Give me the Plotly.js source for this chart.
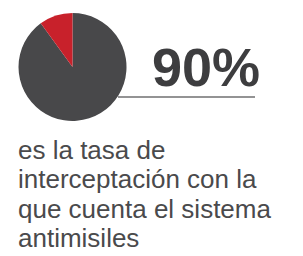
<!DOCTYPE html>
<html><head><meta charset="utf-8">
<script src="https://cdn.plot.ly/plotly-3.0.1.min.js"></script>
<style>html,body{margin:0;padding:0;background:#fff;}#c{width:303px;height:256px;}</style>
</head><body><div id="c"></div>
<script>
const labels = ["Interceptado", "No interceptado"];
const values = [90, 10];
const colors = ["#48484a", "#c8212b"];
const headline = "90%";
const bodyLines = ["es la tasa de", "interceptación con la", "que cuenta el sistema", "antimisiles"];

const W = 303, H = 256;
const px = v => v / W, py = v => 1 - v / H;

const annotations = [{
  xref: "paper", yref: "paper", x: px(150), y: py(67), xanchor: "left", yanchor: "middle",
  text: headline, showarrow: false,
  font: {family: "Liberation Sans, Arial, sans-serif", size: 54, color: "#3d3d3f", weight: 700}
}];
bodyLines.forEach((t, i) => {
  annotations.push({
    xref: "paper", yref: "paper", x: px(16), y: py(150 + i * 29.3), xanchor: "left", yanchor: "middle",
    text: t, showarrow: false,
    font: {family: "Liberation Sans, Arial, sans-serif", size: 26, color: "#4a4a4c"}
  });
});

Plotly.newPlot("c", [{
  type: "pie", labels: labels, values: values, sort: false, direction: "clockwise", rotation: 0,
  marker: {colors: colors, line: {width: 0}}, textinfo: "none", hoverinfo: "none",
  domain: {x: [px(18), px(127)], y: [py(121), py(13)]}
}], {
  width: W, height: H, margin: {l: 0, r: 0, t: 0, b: 0}, showlegend: false,
  paper_bgcolor: "#fff",
  annotations: annotations,
  shapes: [{type: "line", xref: "paper", yref: "paper", x0: px(118), x1: px(255), y0: py(97), y1: py(97),
    line: {color: "#6f6f71", width: 1.5}, layer: "below"}]
}, {staticPlot: true});
</script></body></html>
